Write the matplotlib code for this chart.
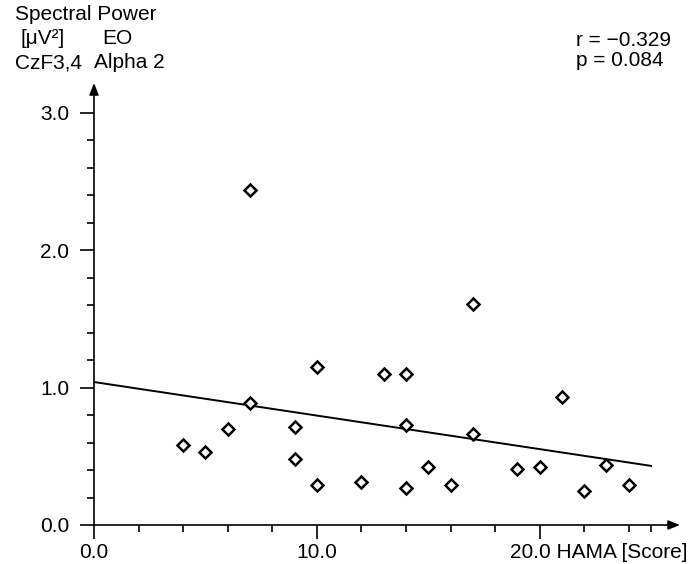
import numpy as np
import matplotlib
matplotlib.use("Agg")
import matplotlib.pyplot as plt

plt.rcParams['font.family'] = ['Liberation Sans', 'DejaVu Sans']

# HAMA score vs. spectral power
hama = [4, 5, 6, 7, 7, 9, 9, 10, 10, 12, 13, 14, 14, 14,
        15, 16, 17, 17, 19, 20, 21, 22, 23, 24]
power = [0.58, 0.53, 0.70, 2.44, 0.89, 0.71, 0.48, 1.15, 0.29, 0.31, 1.10, 1.10, 0.73, 0.27,
         0.42, 0.29, 1.61, 0.66, 0.41, 0.42, 0.93, 0.25, 0.44, 0.29]

# regression line end points
fit_x = [0, 25]
fit_y = [1.04, 0.43]

x_major = [0, 10, 20]
x_major_labels = ["0.0", "10.0", ""]
x_last_label = "20.0 HAMA [Score]"
x_minor = [2, 4, 6, 8, 12, 14, 16, 18, 22, 24, 25]
y_major = [0, 1, 2, 3]
y_major_labels = ["0.0", "1.0", "2.0", "3.0"]

xmax, ymax = 26.3, 3.215
fs = 15

fig = plt.figure(figsize=(6.93, 5.64), dpi=100)
ax = fig.add_axes([94 / 693, 39 / 564, (680 - 94) / 693, (525 - 83) / 564])

ax.plot(fit_x, fit_y, color='black', lw=1.4, zorder=2)
ax.plot(hama, power, linestyle='none', marker='D', ms=6.5, mfc='white', mec='black',
        mew=1.8, zorder=3, clip_on=False)

ax.set_xlim(0, xmax)
ax.set_ylim(0, ymax)
for s in ax.spines.values():
    s.set_visible(False)

arrow = dict(arrowstyle='-|>,head_length=0.7,head_width=0.28', color='black', lw=1.2,
             shrinkA=0, shrinkB=0, mutation_scale=10)
ax.annotate('', xy=(xmax, 0), xytext=(0, 0), arrowprops=arrow, annotation_clip=False)
ax.annotate('', xy=(0, ymax), xytext=(0, 0), arrowprops=arrow, annotation_clip=False)

ax.set_xticks(x_major)
ax.set_xticklabels(x_major_labels)
ax.set_xticks(x_minor, minor=True)
ax.set_yticks(y_major)
ax.set_yticklabels(y_major_labels)
ax.set_yticks(np.arange(0.2, 3.2, 0.2), minor=True)
ax.tick_params(which='major', length=10, width=1.2, labelsize=fs, colors='black')
ax.tick_params(which='minor', length=5, width=1.2)
ax.tick_params(axis='x', which='major', pad=3)
ax.tick_params(axis='y', which='major', pad=8)

# last x tick label carries the axis title, starting a bit left of the tick
ax.annotate(x_last_label, xy=(x_major[2], 0), xytext=(-30, -18), textcoords='offset pixels',
            ha='left', va='top', fontsize=fs, annotation_clip=False)

fig.text(15 / 693, 1 - 15 / 564, "Spectral Power", ha='left', va='center', fontsize=fs)
fig.text(20 / 693, 1 - 39 / 564, "[\u03bcV\u00b2]", ha='left', va='center', fontsize=fs)
fig.text(102 / 693, 1 - 39 / 564, "EO", ha='left', va='center', fontsize=fs)
fig.text(15 / 693, 1 - 63 / 564, "CzF3,4", ha='left', va='center', fontsize=fs)
fig.text(94 / 693, 1 - 63 / 564, "Alpha 2", ha='left', va='center', fontsize=fs)

fig.text(576 / 693, 1 - 40 / 564, "r = \u22120.329", ha='left', va='center', fontsize=fs)
fig.text(576 / 693, 1 - 60 / 564, "p = 0.084", ha='left', va='center', fontsize=fs)

fig.savefig("out.png", dpi=100)
